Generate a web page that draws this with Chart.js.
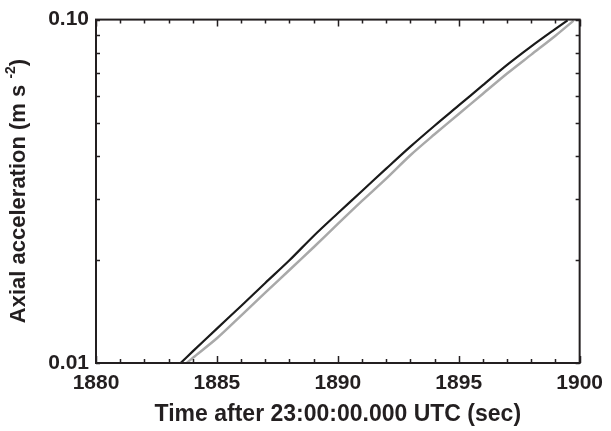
<!DOCTYPE html>
<html>
<head>
<meta charset="utf-8">
<script src="https://cdn.jsdelivr.net/npm/chart.js@4"></script>
<style>
  html, body { margin: 0; padding: 0; background: #fff; }
  #wrap { width: 611px; height: 431px; }
</style>
</head>
<body>
<div id="wrap"><canvas id="accelChart" width="611" height="431"></canvas></div>
<script>
// measured (black) and model (grey) axial acceleration
const timeBlack = [1883.5, 1884, 1885, 1886, 1887, 1888, 1889, 1890, 1891, 1892, 1893, 1894, 1895, 1896, 1897, 1898, 1899, 1899.5];
const accelBlack = [0.0100, 0.01081, 0.01259, 0.01466, 0.01710, 0.01991, 0.02344, 0.02729, 0.03170, 0.03681, 0.04266, 0.04909, 0.05623, 0.06442, 0.07379, 0.08356, 0.09397, 0.09954];
const timeGrey = [1883.75, 1884, 1885, 1886, 1887, 1888, 1889, 1890, 1891, 1892, 1893, 1894, 1895, 1896, 1897, 1898, 1899, 1899.75];
const accelGrey = [0.0100, 0.01035, 0.01180, 0.01374, 0.01603, 0.01866, 0.02173, 0.02541, 0.02965, 0.03443, 0.04027, 0.04634, 0.05309, 0.06081, 0.06966, 0.07907, 0.08974, 0.09931];

const yTicks = [0.01, 0.02, 0.03, 0.04, 0.05, 0.06, 0.07, 0.08, 0.09, 0.10];
const yTickLabels = ['0.01', '', '', '', '', '', '', '', '', '0.10'];
const xTicks = [1880, 1881, 1882, 1883, 1884, 1885, 1886, 1887, 1888, 1889, 1890, 1891, 1892, 1893, 1894, 1895, 1896, 1897, 1898, 1899, 1900];
const xMajor = [1880, 1885, 1890, 1895, 1900];

const ink = '#231f20';
const fontFamily = '"Liberation Sans", Arial, sans-serif';
const labelFont = { family: fontFamily, size: 21, weight: 'bold' };

const toPoints = (xs, ys) => xs.map((x, i) => ({ x, y: ys[i] }));

// frame with inward ticks on all four sides, plus axis titles
const framePlugin = {
    id: 'frame',
    afterDraw(chart) {
        const { ctx, chartArea: a, scales } = chart;
        ctx.save();
        ctx.strokeStyle = ink;
        ctx.lineWidth = 2;
        ctx.strokeRect(a.left, a.top, a.right - a.left, a.bottom - a.top);
        ctx.lineWidth = 1.5;
        ctx.beginPath();
        xTicks.forEach(t => {
            const px = Math.round(scales.x.getPixelForValue(t)) + 0.5;
            const len = xMajor.includes(t) ? 7 : 4;
            ctx.moveTo(px, a.bottom); ctx.lineTo(px, a.bottom - len);
            ctx.moveTo(px, a.top); ctx.lineTo(px, a.top + len);
        });
        yTicks.forEach(v => {
            const py = Math.round(scales.y.getPixelForValue(v)) + 0.5;
            ctx.moveTo(a.left, py); ctx.lineTo(a.left + 4, py);
            ctx.moveTo(a.right, py); ctx.lineTo(a.right - 4, py);
        });
        ctx.stroke();

        ctx.fillStyle = ink;
        ctx.font = 'bold 23px ' + fontFamily;
        ctx.textAlign = 'center';
        ctx.textBaseline = 'middle';
        ctx.fillText('Time after 23:00:00.000 UTC (sec)', (a.left + a.right) / 2, 415);

        // y title with superscript exponent
        const main = 'Axial acceleration (m s ';
        const sup = '-2';
        const tail = ')';
        ctx.font = 'bold 22px ' + fontFamily;
        const w1 = ctx.measureText(main).width;
        const w3 = ctx.measureText(tail).width;
        ctx.font = 'bold 14px ' + fontFamily;
        const w2 = ctx.measureText(sup).width;
        const total = w1 + w2 + w3;
        ctx.translate(19, 191);
        ctx.rotate(-Math.PI / 2);
        ctx.textAlign = 'left';
        ctx.font = 'bold 22px ' + fontFamily;
        ctx.fillText(main, -total / 2, 0);
        ctx.font = 'bold 14px ' + fontFamily;
        ctx.fillText(sup, -total / 2 + w1, -8);
        ctx.font = 'bold 22px ' + fontFamily;
        ctx.fillText(tail, -total / 2 + w1 + w2, 0);
        ctx.restore();
    },
};

new Chart(document.getElementById('accelChart'), {
    type: 'line',
    data: {
        datasets: [
            {
                label: 'Model',
                data: toPoints(timeGrey, accelGrey),
                borderColor: '#a9a9a9',
                borderWidth: 2.5,
                pointRadius: 0,
                tension: 0.3,
            },
            {
                label: 'Measured',
                data: toPoints(timeBlack, accelBlack),
                borderColor: '#1a1a1a',
                borderWidth: 2.2,
                pointRadius: 0,
                tension: 0.3,
            },
        ],
    },
    options: {
        responsive: false,
        animation: false,
        layout: { padding: { top: 16, right: 24, left: 0, bottom: 0 } },
        plugins: { legend: { display: false }, tooltip: { enabled: false } },
        scales: {
            x: {
                type: 'linear',
                min: 1880,
                max: 1900,
                grid: { display: false, drawTicks: false },
                border: { display: false },
                afterBuildTicks: s => { s.ticks = xMajor.map(v => ({ value: v })); },
                afterFit: s => { s.height = 68; },
                ticks: {
                    color: ink,
                    font: labelFont,
                    padding: 8,
                    maxRotation: 0,
                    autoSkip: false,
                    callback: v => String(v),
                },
            },
            y: {
                type: 'logarithmic',
                min: 0.01,
                max: 0.1,
                grid: { display: false, drawTicks: false },
                border: { display: false },
                afterBuildTicks: s => { s.ticks = yTicks.map(v => ({ value: v })); },
                afterFit: s => { s.width = 96; },
                ticks: {
                    color: ink,
                    font: labelFont,
                    padding: 7,
                    autoSkip: false,
                    callback: (v, i) => yTickLabels[i],
                },
            },
        },
    },
    plugins: [framePlugin],
});
</script>
</body>
</html>
